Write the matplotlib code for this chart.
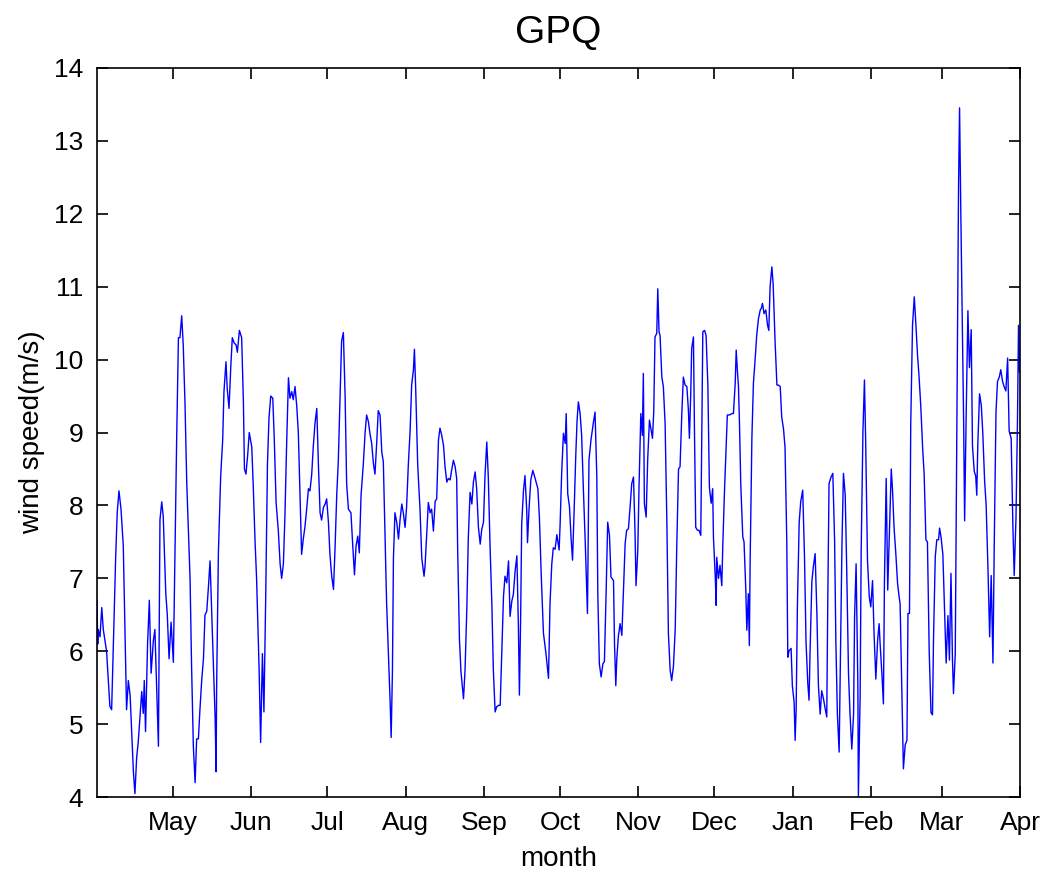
# Wind speed time series, GPQ station
import matplotlib.pyplot as plt
import matplotlib.dates as mdates
import pandas as pd

# Data: days after 1 April, wind speed (m/s)
days = [
    0.0, 0.3, 0.5, 1.2, 1.9, 2.5, 3.8, 4.5, 5.1, 5.8, 6.5, 7.4, 8.0, 8.7, 9.5, 10.4, 11.1, 11.7, 12.4, 13.1,
    13.7, 14.4, 15.0, 15.7, 16.3, 17.0, 17.7, 18.3, 18.7, 19.2, 20.0, 20.7, 21.4, 22.3, 22.9, 23.6, 24.3, 24.9,
    25.6, 26.2, 27.2, 27.8, 28.5, 29.3, 30.2, 30.8, 31.5, 32.2, 32.8, 33.5, 34.1, 34.8, 35.5, 36.8, 37.4, 38.1,
    38.8, 39.4, 40.1, 40.7, 41.4, 42.1, 42.7, 43.4, 44.0,
    44.7, 45.3, 45.7, 46.3, 46.7, 47.1, 47.3, 48.0, 48.9, 49.7, 50.2, 51.0, 51.5, 52.2, 52.9, 53.5, 54.2, 55.0,
    55.5, 56.3, 57.2, 57.9, 58.3, 58.9, 59.6, 60.2, 61.2, 61.8, 62.5, 63.1, 64.1, 64.7, 65.4, 66.0, 66.7, 67.4,
    68.0, 68.7, 69.5, 70.1, 70.8, 71.7, 72.4, 73.0, 73.7, 74.3, 75.0, 75.7, 76.3, 77.0, 77.6, 78.3, 79.0, 79.6,
    80.3, 80.9, 81.6, 82.2, 82.9, 83.6, 84.2, 84.9, 85.5, 86.2, 86.9, 87.5, 88.2, 88.8, 89.5,
    90.2, 90.8, 91.5, 92.1, 92.8, 93.5, 94.1, 94.8, 95.4, 96.1, 96.7, 97.4, 98.1, 98.7, 99.4, 100.4, 101.1,
    101.8, 102.4, 103.1, 103.7, 104.4, 105.3, 106.0, 106.6, 107.3, 107.9, 108.6, 109.3, 109.9, 110.6, 111.2,
    111.9, 112.6, 113.2, 113.9, 114.5, 115.2, 115.9, 116.3, 116.8, 117.2, 117.8, 118.5, 119.2, 119.8, 120.5,
    121.1, 121.8, 122.4, 123.1, 123.8, 124.4, 125.1, 125.5, 126.0, 126.8, 127.7, 128.4, 129.3, 129.7, 130.4,
    131.0, 131.7, 132.3, 133.0, 133.7, 134.3, 135.0,
    135.6, 136.3, 137.0, 137.6, 138.3, 138.9, 139.6, 140.2, 140.9, 141.6, 142.2, 142.6, 143.3, 143.9, 144.9,
    145.5, 146.2, 146.8, 147.5, 148.2, 148.8, 149.5, 150.1, 150.8, 151.5, 152.1, 152.8, 153.4, 154.1, 154.7,
    155.4, 156.1, 156.7, 157.4, 158.0, 158.7, 159.4, 160.0, 160.7, 161.3, 162.0, 162.7, 163.3, 164.0, 164.6,
    165.3, 166.0, 166.6, 167.0, 167.5, 167.9, 168.6, 169.2, 169.9, 170.2, 170.8, 171.5, 172.3, 172.9, 173.6,
    174.3, 174.9, 175.6, 176.5, 177.5, 178.5, 179.1, 179.8, 180.4,
    181.1, 181.8, 182.7, 183.1, 183.7, 184.4, 185.1, 185.5, 186.1, 186.8, 187.4, 188.0, 188.6, 189.3, 189.8,
    190.3, 191.0, 191.6, 192.3, 193.0, 193.4, 193.9, 194.5, 195.3, 196.3, 196.9, 197.6, 198.0, 198.6, 199.3,
    200.0, 200.6, 201.3, 201.9, 202.6, 203.2, 204.2, 204.6, 205.1, 205.5, 206.1, 206.8, 207.5, 208.1, 208.8,
    209.4, 210.1, 210.8, 211.4, 212.1, 212.7, 213.1, 213.8, 214.3, 215.0, 215.6, 216.0, 216.4, 217.1, 217.7,
    218.4, 219.1, 219.6, 220.1, 220.6, 221.3, 221.7, 222.2, 222.6, 223.3, 223.9, 224.6, 225.3, 225.9,
    226.6, 227.2, 227.9, 228.6, 229.2, 229.9, 230.5, 231.2, 231.8, 232.5, 233.2, 233.8, 234.2, 234.7, 235.1,
    235.8, 236.2, 236.7, 237.4, 238.0, 238.7, 239.1, 239.5, 240.2, 240.8, 241.5, 242.1, 242.8, 243.4, 243.7,
    244.4, 244.8, 245.0, 245.7, 246.3, 247.0, 247.4, 248.1, 248.7, 249.2, 250.0, 251.0, 251.6, 252.3, 252.7,
    253.2, 253.6, 254.0, 254.5, 255.3, 255.8, 256.5, 256.9, 257.5, 257.9, 258.2, 258.9, 259.5, 260.2, 260.8,
    261.5, 262.2, 262.6, 263.1, 263.7, 264.4, 265.1, 265.6, 266.1, 266.8, 267.3, 268.1, 268.8, 269.4, 270.1,
    270.7, 271.4,
    272.0, 272.7, 273.1, 273.6, 274.4, 274.9, 275.6, 276.0, 276.4, 276.9, 277.6, 278.2, 279.0, 279.7, 280.3,
    281.0, 281.5, 281.9, 282.6, 283.2, 283.9, 284.6, 285.2, 285.9, 286.5, 287.2, 287.9, 288.5, 288.9, 289.4,
    290.2, 290.9, 291.6, 292.1, 292.7, 293.4, 293.8, 294.5, 295.1, 295.8, 296.4, 297.1, 297.7, 298.4, 299.1,
    299.5, 300.1, 300.8, 301.0, 301.7, 302.1, 302.8, 303.4, 303.9, 304.6, 305.3, 305.9, 306.6, 307.2, 307.9,
    308.6, 309.2, 309.6, 310.3, 310.9, 311.3, 312.0, 312.6, 313.3, 314.0, 314.5, 315.1, 315.8, 316.5, 317.1,
    317.5, 318.2, 318.8, 319.5, 320.2, 320.6, 321.2, 321.7, 322.4, 323.1, 323.7, 324.4, 325.0, 325.7, 326.4,
    327.0, 327.7, 328.3, 329.0, 329.7, 330.3, 330.7, 331.4, 332.0, 332.7, 333.1, 333.7, 334.4, 335.1, 335.7,
    336.4, 337.0, 337.6, 338.2, 338.6, 339.3, 339.9, 340.6, 341.0, 341.5, 342.2, 342.6, 343.0, 343.6, 344.3,
    344.9, 345.6, 346.1, 346.8, 347.4, 347.8, 348.2, 348.9, 349.6, 350.2, 350.9, 351.5, 352.2, 352.9, 353.5,
    354.2, 354.7, 355.4, 356.0, 356.7, 357.3, 358.0, 358.6, 359.3, 360.0, 360.6, 361.4, 362.1, 362.6, 363.3,
    363.9, 364.3, 364.7,
]
speed = [
    6.7, 6.1, 6.3, 6.2, 6.6, 6.3, 6.0, 5.6, 5.25, 5.2, 6.1, 7.3, 7.9, 8.2, 7.95, 7.45, 6.2, 5.2, 5.6, 5.4,
    4.9, 4.35, 4.05, 4.55, 4.75, 5.1, 5.45, 5.15, 5.6, 4.9, 6.1, 6.7, 5.7, 6.15, 6.3, 5.5, 4.7, 7.8,
    8.05, 7.85, 6.8, 6.5, 5.9, 6.4, 5.85, 7.3, 8.9, 10.3, 10.3, 10.6, 10.2, 9.4, 8.3, 7.0, 5.8, 4.7,
    4.2, 4.8, 4.8, 5.2, 5.6, 5.9, 6.5, 6.55, 6.85,
    7.24, 6.6, 6.2, 5.5, 5.1, 4.35, 5.5, 7.35, 8.4, 8.9, 9.56, 9.97, 9.6, 9.33, 9.9, 10.3, 10.23, 10.2,
    10.1, 10.4, 10.3, 9.4, 8.5, 8.43, 8.7, 9.0, 8.8, 8.25, 7.5, 7.0, 5.75, 4.75, 5.97, 5.17, 6.73, 8.57,
    9.2, 9.5, 9.47, 8.9, 8.05, 7.65, 7.2, 7.0, 7.2, 7.85, 8.87, 9.75, 9.47, 9.56, 9.45, 9.63, 9.35, 9.0,
    8.1, 7.33, 7.55, 7.7, 7.95, 8.23, 8.2, 8.43, 8.8, 9.13, 9.33, 8.6, 7.9, 7.8, 7.97,
    8.02, 8.09, 7.77, 7.33, 7.03, 6.85, 7.4, 8.16, 8.6, 9.49, 10.25, 10.37, 9.49, 8.3, 7.95, 7.9, 7.46,
    7.05, 7.44, 7.58, 7.35, 8.14, 8.57, 9.0, 9.24, 9.15, 8.99, 8.85, 8.57, 8.43, 8.87, 9.3,
    9.24, 8.73, 8.6, 7.53, 6.66, 6.0, 5.3, 4.82, 5.72, 7.28, 7.9, 7.77, 7.54, 7.8, 8.02,
    7.9, 7.7, 7.98, 8.57, 9.03, 9.65, 9.86, 10.14, 9.6, 8.55, 7.95, 7.28, 7.03, 7.17, 7.65,
    8.04, 7.9, 7.95, 7.65, 8.06, 8.09, 8.9,
    9.06, 8.96, 8.82, 8.53, 8.32, 8.37, 8.35, 8.48, 8.62, 8.53, 8.37, 7.38, 6.16, 5.72, 5.35,
    5.74, 6.57, 7.56, 8.18, 8.02, 8.32, 8.46, 8.23, 7.7, 7.47, 7.67, 7.77, 8.41, 8.87, 8.39,
    7.44, 6.66, 5.74, 5.17, 5.24, 5.26, 5.26, 5.95, 6.75, 7.03, 6.94, 7.24, 6.48, 6.69, 6.78,
    7.1, 7.31, 6.34, 5.4, 6.5, 7.74, 8.2, 8.41, 7.93, 7.49, 7.95, 8.35, 8.48, 8.41, 8.32,
    8.23, 7.84, 7.07, 6.25, 5.97, 5.63, 6.66, 7.2, 7.42,
    7.4, 7.6, 7.39, 7.75, 8.44, 8.99, 8.85, 9.26, 8.16, 7.98, 7.57, 7.25, 7.89, 8.71, 9.17,
    9.42, 9.26, 8.96, 8.21, 7.52, 7.06, 6.52, 8.62, 8.9, 9.15, 9.28, 8.39, 6.77, 5.83, 5.65,
    5.83, 5.86, 6.84, 7.77, 7.59, 7.02, 6.97, 6.1, 5.53, 5.9, 6.2, 6.38, 6.22, 6.79, 7.48,
    7.66, 7.68, 8.0, 8.3, 8.39, 7.64, 6.9, 7.39, 8.28, 9.26, 8.96, 9.81, 8.03, 7.84, 8.62,
    9.17, 9.03, 8.92, 9.28, 10.31, 10.36, 10.97, 10.38, 10.33, 9.76, 9.63, 9.12, 7.75, 6.24,
    5.74, 5.6, 5.8, 6.31, 7.43, 8.5, 8.53, 9.26, 9.76, 9.65, 9.63, 9.31, 8.92, 9.49, 10.15,
    10.31, 9.03, 7.7, 7.66, 7.66, 7.59, 8.99, 10.38, 10.4, 10.33, 9.65, 8.25, 8.03, 8.23, 7.57,
    7.04, 6.63, 7.29, 7.0, 7.18, 6.9, 7.45, 8.23, 8.8, 9.24, 9.24, 9.26, 9.26, 9.67, 10.13,
    9.83, 9.63, 9.12, 8.3, 7.57, 7.5, 6.84, 6.29, 6.79, 6.08, 7.2, 8.92, 9.67, 10.01, 10.33,
    10.56, 10.68, 10.7, 10.77, 10.63, 10.68, 10.47, 10.4, 11.0, 11.27, 11.04, 10.22, 9.65, 9.65, 9.63,
    9.21, 9.05,
    8.8, 7.5, 5.92, 6.01, 6.04, 5.53, 5.3, 4.78, 5.21, 6.63, 7.77, 8.05, 8.21, 7.29, 6.13,
    5.56, 5.33, 5.99, 6.95, 7.16, 7.34, 6.52, 5.53, 5.14, 5.46, 5.35, 5.21, 5.1, 6.68, 8.3,
    8.39, 8.44, 7.52, 6.13, 5.14, 4.62, 5.69, 7.45, 8.44, 8.14, 7.11, 5.69, 5.14, 4.66, 5.14,
    6.47, 7.2, 5.53, 4.0, 5.4, 7.36, 9.01, 9.72, 8.85, 7.25, 6.75, 6.61, 6.97, 6.24, 5.62,
    6.15, 6.38, 6.1, 5.69, 5.28, 6.95, 8.37, 6.84, 7.66, 8.5, 8.21, 7.7, 7.34, 6.93, 6.75,
    6.65, 5.42, 4.39, 4.72, 4.78, 6.52, 6.52, 9.11, 10.47, 10.86, 10.5, 10.05, 9.76, 9.34, 8.79,
    8.43, 7.53, 7.5, 6.0, 5.16, 5.13, 6.17, 7.3, 7.53, 7.53, 7.69, 7.56, 7.33, 6.52, 5.84,
    6.49, 5.88, 7.07, 5.88, 5.42, 5.97, 8.92, 12.38, 13.45, 12.0, 10.2, 9.18, 7.79, 9.21, 10.67,
    9.89, 10.41, 8.82, 8.47, 8.4, 8.14, 8.82, 9.53, 9.37, 8.98, 8.34, 8.01, 7.17, 6.2, 7.04,
    5.84, 7.43, 9.28, 9.7, 9.76, 9.86, 9.7, 9.63, 9.57, 10.02, 9.02, 8.92, 7.69, 7.04, 7.82,
    9.18, 10.47, 9.83,
]

start = pd.Timestamp('2009-04-01')
dates = start + pd.to_timedelta(days, unit='D')
month_ticks = pd.date_range('2009-05-01', '2010-04-01', freq='MS')

plt.rcParams['font.family'] = ['Liberation Sans', 'DejaVu Sans']

fig = plt.figure(figsize=(10.54, 8.8), dpi=100)
ax = fig.add_axes([0.092, 0.094, 0.876, 0.829])

ax.plot(dates, speed, color='blue', linewidth=1.0)

ax.set_xlim(start, pd.Timestamp('2010-04-01'))
ax.set_ylim(4, 14)
ax.set_xticks(month_ticks)
ax.xaxis.set_major_formatter(mdates.DateFormatter('%b'))
ax.set_yticks(range(4, 15))

ax.tick_params(direction='in', top=True, right=True, length=8, width=1.2,
               labelsize=19, pad=10)
for s in ax.spines.values():
    s.set_linewidth(1.2)

ax.set_title('GPQ', fontsize=28, pad=18)
ax.set_xlabel('month', fontsize=20, labelpad=8)
ax.set_ylabel('wind speed(m/s)', fontsize=20, labelpad=6)

plt.savefig('out.png', dpi=100)
